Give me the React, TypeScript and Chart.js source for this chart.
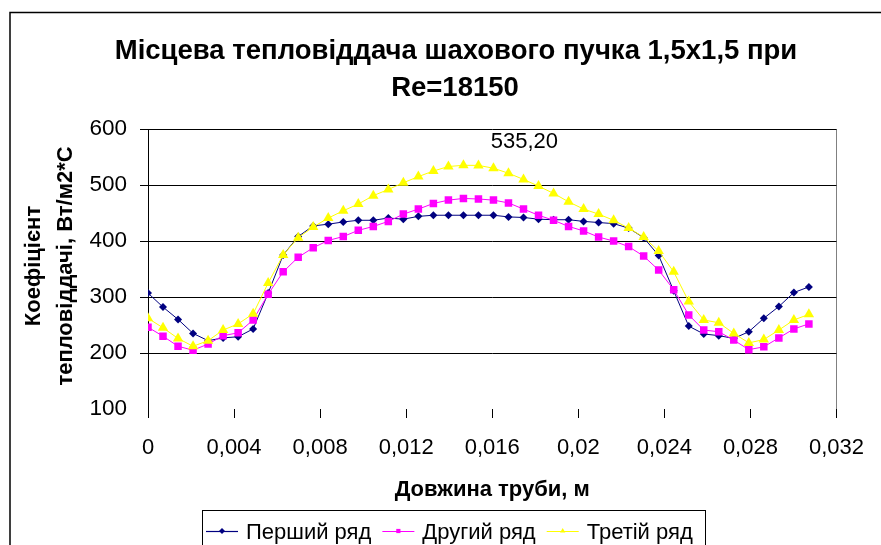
import React, { useEffect, useRef } from "react";
import { Chart, registerables } from "chart.js";

Chart.register(...registerables);

const FONT = "'Liberation Sans', Arial, sans-serif";

const TITLE_LINES = ["Місцева тепловіддача шахового пучка 1,5х1,5 при", "Re=18150"];
const X_TITLE = "Довжина труби, м";
const Y_TITLE_LINES = ["Коефіцієнт", "тепловіддачі, Вт/м2*С"];
const SERIES_NAMES = ["Перший ряд", "Другий ряд", "Третій ряд"];

const X_VALUES = [
  0, 0.000698, 0.001396, 0.002094, 0.002793, 0.003491, 0.004189, 0.004887, 0.005585, 0.006283,
  0.006981, 0.007679, 0.008378, 0.009076, 0.009774, 0.010472, 0.01117, 0.011868, 0.012566, 0.013265,
  0.013963, 0.014661, 0.015359, 0.016057, 0.016755, 0.017453, 0.018151, 0.01885, 0.019548, 0.020246,
  0.020944, 0.021642, 0.02234, 0.023038, 0.023736, 0.024435, 0.025133, 0.025831, 0.026529, 0.027227,
  0.027925, 0.028623, 0.029322, 0.03002, 0.030718,
];

const ROW1 = [
  307, 282, 260, 235, 222, 227, 229, 243, 307, 375, 408, 427, 430, 434, 437, 437, 441, 439, 444, 446,
  446, 446, 446, 446, 443, 442, 439, 438, 438, 435, 433, 431, 423, 406, 374, 311, 248, 234, 231, 226,
  238, 262, 283, 308, 318,
];

const ROW2 = [
  246, 230, 212, 205, 216, 231, 236, 259, 305, 345, 371, 388, 401, 408, 419, 426, 435, 448, 457, 467,
  473, 476, 475, 473, 468, 457, 446, 437, 426, 418, 407, 400, 390, 373, 348, 313, 268, 241, 238, 223,
  206, 211, 227, 243, 252,
];

const ROW3 = [
  262, 245, 226, 212, 222, 241, 252, 270, 325, 375, 406, 425, 441, 454, 466, 481, 492, 504, 515, 525,
  533, 535.2, 535, 530, 521, 510, 498, 485, 470, 457, 448, 437, 423, 407, 382, 345, 292, 259, 254, 235,
  218, 224, 241, 259, 269,
];

const Y_MIN = 100;
const Y_MAX = 600;
const Y_STEP = 100;
const X_MIN = 0;
const X_MAX = 0.032;
const X_STEP = 0.004;

const COLORS = ["#000080", "#FF00FF", "#FFFF00"];
const POINT_STYLES = ["rectRot", "rect", "triangle"];
const POINT_RADII = [4, 5.3, 6];

function fmt(v: number, digits: number) {
  return String(+v.toFixed(digits)).replace(".", ",");
}

function drawMarker(ctx: CanvasRenderingContext2D, style: string, x: number, y: number, r: number, color: string) {
  ctx.fillStyle = color;
  ctx.beginPath();
  if (style === "rectRot") {
    ctx.moveTo(x - r, y);
    ctx.lineTo(x, y - r);
    ctx.lineTo(x + r, y);
    ctx.lineTo(x, y + r);
  } else if (style === "rect") {
    ctx.rect(x - r * 0.7, y - r * 0.7, r * 1.4, r * 1.4);
  } else {
    ctx.moveTo(x, y - r);
    ctx.lineTo(x + r * 0.87, y + r * 0.5);
    ctx.lineTo(x - r * 0.87, y + r * 0.5);
  }
  ctx.closePath();
  ctx.fill();
}

const decoPlugin = {
  id: "deco",
  afterDraw(chart: any) {
    const ctx: CanvasRenderingContext2D = chart.ctx;
    const ca = chart.chartArea;
    ctx.save();
    // outer frame
    ctx.strokeStyle = "#000";
    ctx.lineWidth = 1.5;
    ctx.strokeRect(10, 12.5, 900, 600);

    // title
    ctx.fillStyle = "#000";
    ctx.textAlign = "center";
    ctx.textBaseline = "alphabetic";
    ctx.font = `bold 27.5px ${FONT}`;
    ctx.fillText(TITLE_LINES[0], 456, 59);
    ctx.fillText(TITLE_LINES[1], 455, 96);

    // x title
    ctx.font = `bold 22px ${FONT}`;
    ctx.fillText(X_TITLE, (ca.left + ca.right) / 2, 496);

    // y title
    const cy = (ca.top + ca.bottom) / 2 - 3;
    ctx.save();
    ctx.translate(40, cy);
    ctx.rotate(-Math.PI / 2);
    ctx.fillText(Y_TITLE_LINES[0], 0, 0);
    ctx.restore();
    ctx.save();
    ctx.translate(72, cy);
    ctx.rotate(-Math.PI / 2);
    ctx.fillText(Y_TITLE_LINES[1], 0, 0);
    ctx.restore();

    // data label at maximum of third series
    const meta = chart.getDatasetMeta(2);
    const vals: number[] = chart.data.datasets[2].data.map((p: any) => p.y);
    let mi = 0;
    vals.forEach((v, i) => {
      if (v > vals[mi]) mi = i;
    });
    const pt = meta.data[mi];
    ctx.font = `22px ${FONT}`;
    ctx.textBaseline = "middle";
    ctx.fillText(vals[mi].toFixed(2).replace(".", ","), pt.x + 61, pt.y - 23);

    // legend
    const lx = 202;
    const ly = 510;
    ctx.strokeStyle = "#000";
    ctx.lineWidth = 1;
    ctx.strokeRect(lx + 0.5, ly + 0.5, 503, 60);
    ctx.font = `22px ${FONT}`;
    ctx.textAlign = "left";
    ctx.textBaseline = "alphabetic";
    let x = lx + 4;
    const my = 531;
    chart.data.datasets.forEach((ds: any) => {
      ctx.strokeStyle = ds.borderColor;
      ctx.lineWidth = 1.2;
      ctx.beginPath();
      ctx.moveTo(x, my + 0.5);
      ctx.lineTo(x + 32, my + 0.5);
      ctx.stroke();
      drawMarker(ctx, ds.pointStyle, x + 16, my, 3, ds.pointBackgroundColor);
      ctx.fillStyle = "#000";
      ctx.fillText(ds.label, x + 40, my + 8);
      x += 40 + ctx.measureText(ds.label).width + 11;
    });
    ctx.restore();
  },
};

export default function App() {
  const ref = useRef<HTMLCanvasElement | null>(null);

  useEffect(() => {
    if (!ref.current) return;
    const rows = [ROW1, ROW2, ROW3];
    const datasets = rows.map((row, i) => ({
      label: SERIES_NAMES[i],
      data: row.map((y, j) => ({ x: X_VALUES[j], y })),
      borderColor: COLORS[i],
      backgroundColor: COLORS[i],
      pointBackgroundColor: COLORS[i],
      pointBorderColor: COLORS[i],
      pointBorderWidth: 0,
      pointStyle: POINT_STYLES[i],
      pointRadius: POINT_RADII[i],
      borderWidth: 1,
      tension: 0,
      order: 2 - i,
    }));

    const chart = new Chart(ref.current, {
      type: "line",
      data: { datasets },
      plugins: [decoPlugin],
      options: {
        responsive: false,
        animation: false,
        devicePixelRatio: 1,
        layout: { padding: { top: 129, right: 38, left: 0, bottom: 0 } },
        plugins: {
          legend: { display: false },
          title: { display: false },
          tooltip: { enabled: false },
        },
        scales: {
          x: {
            type: "linear",
            min: X_MIN,
            max: X_MAX,
            afterFit: (s: any) => {
              s.height = 136;
            },
            ticks: {
              stepSize: X_STEP,
              color: "#000",
              padding: 17,
              maxRotation: 0,
              autoSkip: false,
              font: { family: FONT, size: 22 },
              callback: (v: any) => fmt(Number(v), 3),
            },
            grid: {
              drawOnChartArea: true,
              color: (c: any) => (c.tick && Math.abs(c.tick.value - X_MAX) < 1e-9 ? "#808080" : "rgba(0,0,0,0)"),
              tickColor: "#000",
              tickLength: 9,
              lineWidth: 1,
            },
            border: { display: false },
          },
          y: {
            type: "linear",
            min: Y_MIN,
            max: Y_MAX,
            afterFit: (s: any) => {
              s.width = 148;
            },
            ticks: {
              stepSize: Y_STEP,
              color: "#000",
              padding: 13,
              font: { family: FONT, size: 22.5 },
              callback: (v: any) => String(v),
            },
            grid: {
              color: (c: any) => (c.tick && c.tick.value === Y_MIN ? "rgba(0,0,0,0)" : "#000"),
              tickColor: (c: any) => (c.tick && c.tick.value === Y_MIN ? "rgba(0,0,0,0)" : "#000"),
              tickLength: 8,
              lineWidth: 1,
            },
            border: { display: true, color: "#000", width: 1 },
          },
        },
      },
    } as any);

    return () => chart.destroy();
  }, []);

  return (
    <div style={{ position: "fixed", left: 0, top: 0, width: 881, height: 545, background: "#fff" }}>
      <canvas ref={ref} width={881} height={545} style={{ width: 881, height: 545 }} />
    </div>
  );
}
